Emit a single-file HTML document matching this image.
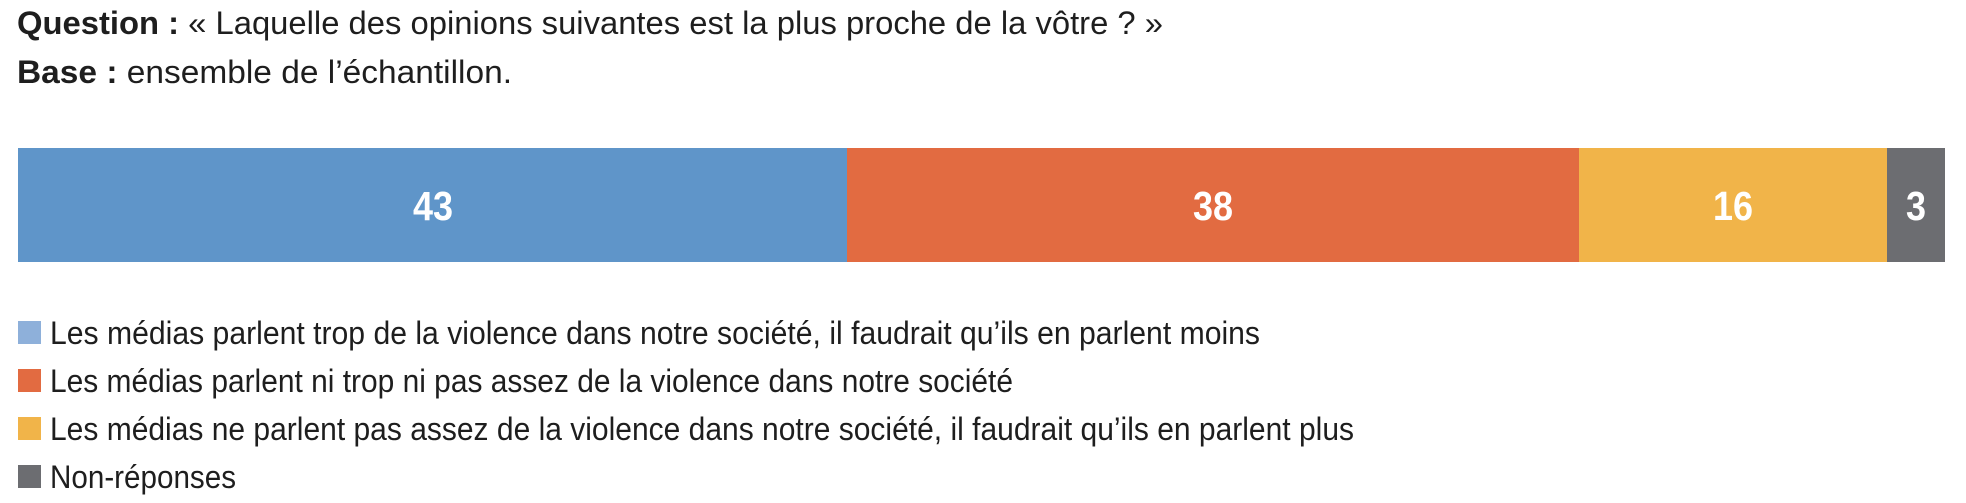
<!DOCTYPE html>
<html><head><meta charset="utf-8"><style>html,body{margin:0;padding:0;background:#fff}</style></head>
<body>
<svg width="1966" height="498" viewBox="0 0 1966 498" xmlns="http://www.w3.org/2000/svg" font-family="Liberation Sans, sans-serif">
<text x="17" y="34" font-size="32" fill="#1e1e1e" textLength="1146" lengthAdjust="spacingAndGlyphs"><tspan font-weight="bold">Question :</tspan> « Laquelle des opinions suivantes est la plus proche de la vôtre ? »</text>
<text x="17" y="83" font-size="32" fill="#1e1e1e" textLength="495" lengthAdjust="spacingAndGlyphs"><tspan font-weight="bold">Base :</tspan> ensemble de l’échantillon.</text>
<rect x="18" y="148" width="829" height="114" fill="#5f95c9"/>
<rect x="847" y="148" width="732" height="114" fill="#e26b41"/>
<rect x="1579" y="148" width="308" height="114" fill="#f1b449"/>
<rect x="1887" y="148" width="58" height="114" fill="#6c6d71"/>
<g fill="#fff" font-weight="bold" font-size="41" text-anchor="middle">
<text x="433" y="220" textLength="40" lengthAdjust="spacingAndGlyphs">43</text>
<text x="1213" y="220" textLength="40" lengthAdjust="spacingAndGlyphs">38</text>
<text x="1733" y="220" textLength="40" lengthAdjust="spacingAndGlyphs">16</text>
<text x="1916" y="220" textLength="20" lengthAdjust="spacingAndGlyphs">3</text>
</g>
<rect x="18" y="321" width="23" height="23" fill="#8eb0da"/>
<rect x="18" y="369" width="23" height="23" fill="#e26b41"/>
<rect x="18" y="417" width="23" height="23" fill="#f1b449"/>
<rect x="18" y="465" width="23" height="23" fill="#6c6d71"/>
<g font-size="32" fill="#1e1e1e">
<text x="50" y="344" textLength="1210" lengthAdjust="spacingAndGlyphs">Les médias parlent trop de la violence dans notre société, il faudrait qu’ils en parlent moins</text>
<text x="50" y="392" textLength="963" lengthAdjust="spacingAndGlyphs">Les médias parlent ni trop ni pas assez de la violence dans notre société</text>
<text x="50" y="440" textLength="1304" lengthAdjust="spacingAndGlyphs">Les médias ne parlent pas assez de la violence dans notre société, il faudrait qu’ils en parlent plus</text>
<text x="50" y="488" textLength="186" lengthAdjust="spacingAndGlyphs">Non-réponses</text>
</g>
</svg>
</body></html>
